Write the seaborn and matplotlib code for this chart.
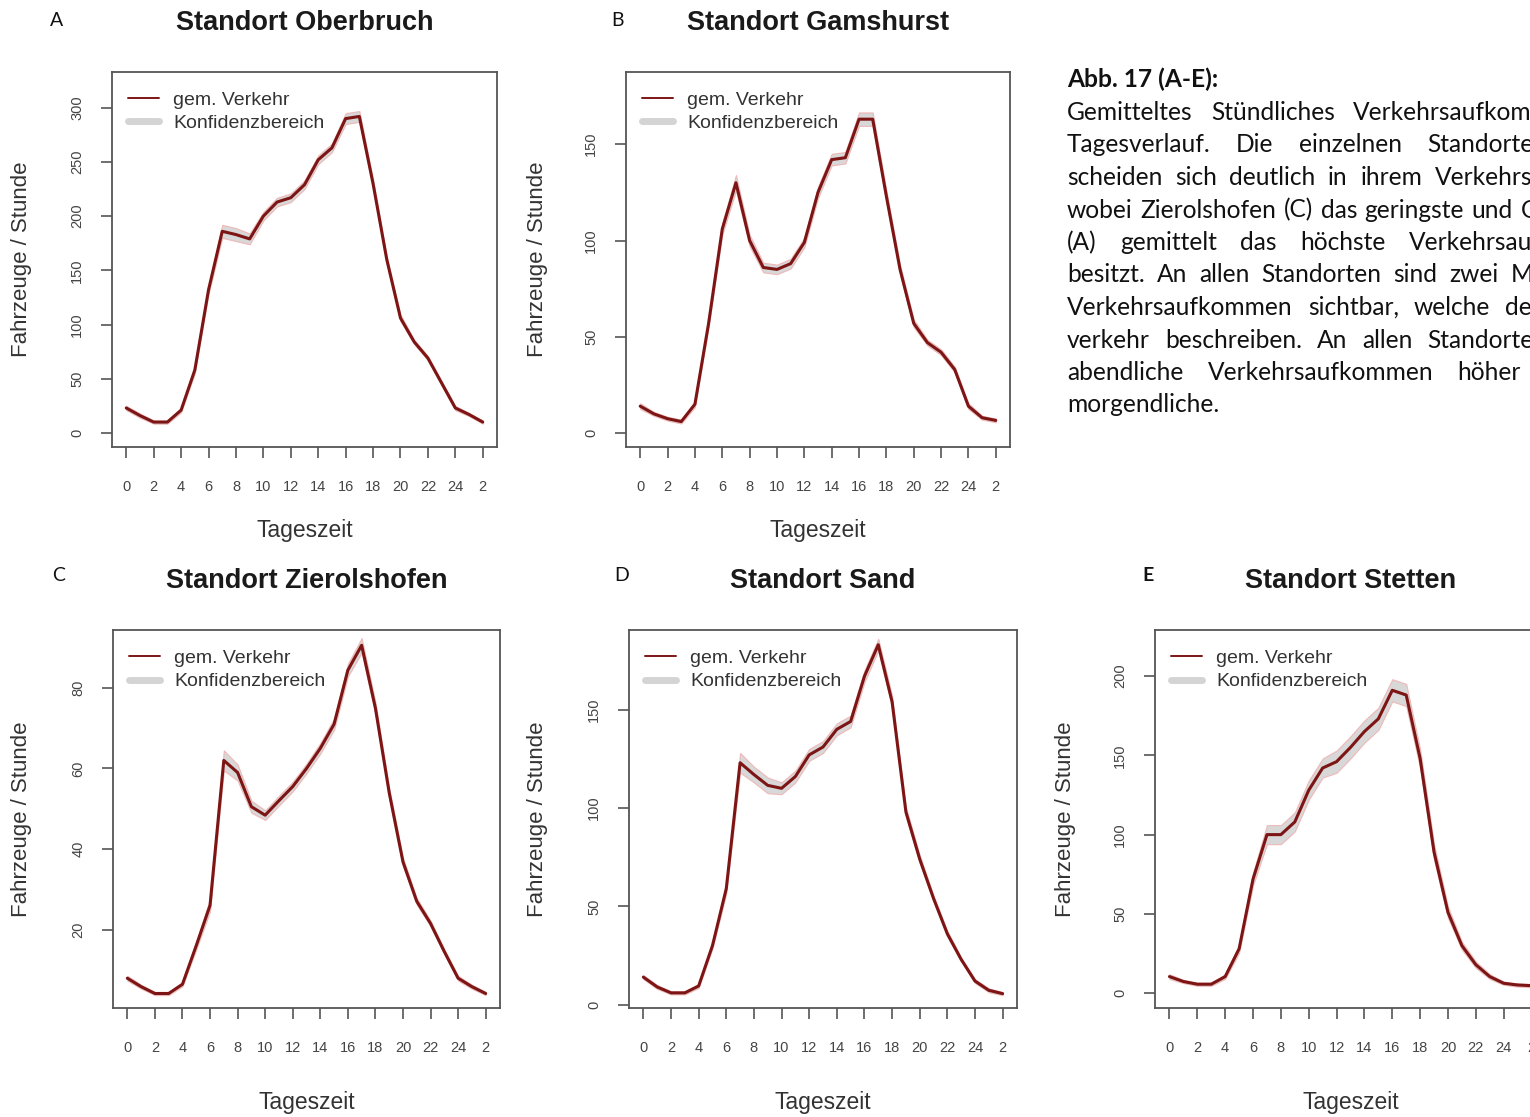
import numpy as np
import pandas as pd
import matplotlib
matplotlib.use("Agg")
import matplotlib.pyplot as plt
from matplotlib.lines import Line2D
import seaborn as sns

# ---------------- data ----------------
hours = list(range(27))
hour_ticks = list(range(0, 27, 2))
hour_labels = ["0", "2", "4", "6", "8", "10", "12", "14", "16", "18", "20", "22", "24", "2"]

titles = ["Standort Oberbruch", "Standort Gamshurst", "Standort Zierolshofen",
          "Standort Sand", "Standort Stetten"]
letters = ["A", "B", "C", "D", "E"]

oberbruch = [23, 16, 10, 10, 21, 58, 132, 186, 183, 179, 200, 213, 217, 229, 252, 263,
             290, 292, 230, 160, 106, 84, 69, 46, 23, 17, 10]
oberbruch_ci = [2, 2, 1.5, 1.5, 2, 3, 4, 6, 6, 5, 4, 4, 4, 4, 4, 4, 5, 5, 4, 3, 3, 2, 2, 2, 2, 1.5, 1.5]

gamshurst = [14, 10, 7.5, 6, 15, 57, 106, 130, 100, 86, 85, 88, 99, 125, 142, 143,
             163, 163, 123, 85, 57, 47, 42, 33, 14, 8, 6.6]
gamshurst_ci = [1.5, 1, 1, 1, 1.5, 2, 3, 4, 3, 2.5, 2.5, 2.5, 2.5, 3, 3, 3, 3.5, 3.5, 3, 2.5, 2,
                1.5, 1.5, 1.5, 1.5, 1, 1]

zierolshofen = [7.9, 5.8, 4.1, 4.1, 6.4, 16, 26, 62, 59, 50.5, 48.4, 52, 55.5, 60, 65, 71,
                84.4, 90.6, 75, 54, 36.8, 27, 21.5, 14.5, 7.9, 5.8, 4.1]
zierolshofen_ci = [0.6, 0.5, 0.4, 0.4, 0.5, 1, 1.5, 2.5, 2, 1.5, 1.2, 1.2, 1.2, 1.2, 1.3, 1.4,
                   1.6, 1.8, 1.5, 1.2, 1, 0.8, 0.7, 0.6, 0.6, 0.5, 0.4]

sand = [14, 9, 6, 6, 9.5, 30, 59, 123, 117, 111.5, 110, 116, 127, 131, 140, 144,
        167, 183, 154, 98, 74, 54, 36, 23, 12, 7.3, 5.6]
sand_ci = [1, 1, 0.8, 0.8, 1, 1.5, 2.5, 5, 4, 4, 3, 3, 3, 3, 3, 3, 3, 3, 3, 2.5, 2, 1.5, 1.5,
           1, 1, 1, 0.8]

stetten = [10.5, 7.4, 5.7, 5.7, 10.5, 28, 72, 100, 100, 108, 128, 142, 146, 155, 165, 173,
           191, 188, 148, 89, 51, 30, 18, 10.5, 6.3, 5.2, 4.8]
stetten_ci = [1.5, 1, 1, 1, 1.5, 2.5, 4, 6, 6, 6, 6, 6, 7, 7, 7, 7, 7, 7, 6, 5, 3.5, 2.5, 2,
              1.5, 1, 1, 1]

yticks_list = [[0, 50, 100, 150, 200, 250, 300], [0, 50, 100, 150], [20, 40, 60, 80],
               [0, 50, 100, 150], [0, 50, 100, 150, 200]]

means = [oberbruch, gamshurst, zierolshofen, sand, stetten]
cis = [oberbruch_ci, gamshurst_ci, zierolshofen_ci, sand_ci, stetten_ci]

caption_title = "Abb. 17 (A-E):"
# (words of the line, visible part of the last word, justified or not)
caption_lines = [
    (["Gemitteltes", "Stündliches", "Verkehrsaufkommen"], "Verkehrsaufkom", True),
    (["Tagesverlauf.", "Die", "einzelnen", "Standorte"], "Standorte", True),
    (["scheiden", "sich", "deutlich", "in", "ihrem", "Verkehrsaufkommen,"], "Verkehrs", True),
    (["wobei", "Zierolshofen", "(C)", "das", "geringste", "und", "Oberbruch"], "O", True),
    (["(A)", "gemittelt", "das", "höchste", "Verkehrsaufkommen"], "Verkehrsau", True),
    (["besitzt.", "An", "allen", "Standorten", "sind", "zwei", "Maxima"], "M", True),
    (["Verkehrsaufkommen", "sichtbar,", "welche", "den"], "de", True),
    (["verkehr", "beschreiben.", "An", "allen", "Standorten"], "Standorte", True),
    (["abendliche", "Verkehrsaufkommen", "höher"], "höher", True),
    (["morgendliche."], "morgendliche.", False),
]

# ---------------- layout (pixels) ----------------
W, H = 1530, 1117
boxes = [(112, 72, 497, 447), (626, 72, 1010, 447), (113, 630, 500, 1008),
         (629, 630, 1017, 1008), (1155, 630, 1546, 1008)]
ylims = [(-13, 333), (-7.2, 187.5), (0.5, 94.4), (-1.7, 190.5), (-9.3, 229)]
letter_pos = [(50, 26), (611, 26), (52, 581), (614, 581), (1142, 581)]
ylabel_x = [22, 537, 22, 538, 1065]
xlabel_y = [531, 531, 1102, 1102, 1102]
cap_left = 1067
cap_right = [1532, 1534, 1532, 1540, 1532, 1533, 1532, 1534, 1521, None]
cap_base = [120, 152.5, 185, 217.5, 250, 282.5, 315, 347.5, 380, 412.5]

sns.set_style("white")
plt.rcParams["font.family"] = ["Liberation Sans", "DejaVu Sans"]

fig = plt.figure(figsize=(W / 100, H / 100), dpi=100)
renderer = fig.canvas.get_renderer()

LINE_COL = "#7d1515"
BAND_COL = "#d2d2d2"
EDGE_COL = "#f0b0b0"
TXT = "#333333"

for i in range(5):
    l, t, r, b = boxes[i]
    ax = fig.add_axes([l / W, 1 - b / H, (r - l) / W, (b - t) / H])
    df = pd.DataFrame({"Stunde": hours, "Verkehr": means[i]})
    lo = [m - c for m, c in zip(means[i], cis[i])]
    hi = [m + c for m, c in zip(means[i], cis[i])]
    ax.fill_between(hours, lo, hi, facecolor=BAND_COL, edgecolor=EDGE_COL,
                    linewidth=0.8, alpha=0.85, zorder=1)
    sns.lineplot(data=df, x="Stunde", y="Verkehr", ax=ax, color=LINE_COL,
                 linewidth=2.2, zorder=3, legend=False)
    ax.set_xlim(-1.04, 27.04)
    ax.set_ylim(*ylims[i])
    ax.set_xticks(hour_ticks)
    ax.set_xticklabels(hour_labels)
    ax.set_yticks(yticks_list[i])
    ax.set_yticklabels([str(v) for v in yticks_list[i]], rotation=90, va="center")
    ax.tick_params(axis="both", direction="out", length=8, width=1.2, color="#555555",
                   labelcolor="#444444", labelsize=10.5)
    ax.tick_params(axis="x", pad=16)
    ax.tick_params(axis="y", pad=12)
    ax.tick_params(bottom=True, left=True)
    for s in ax.spines.values():
        s.set_visible(True)
        s.set_color("#555555")
        s.set_linewidth(1.3)
    hpx = b - t
    wpx = r - l
    ax.set_xlabel("Tageszeit", fontsize=16.5, color=TXT)
    ax.xaxis.set_label_coords(0.5, -(xlabel_y[i] - b) / hpx)
    ax.xaxis.label.set_va("center")
    ax.set_ylabel("Fahrzeuge / Stunde", fontsize=16, color=TXT)
    ax.yaxis.set_label_coords((ylabel_x[i] - l) / wpx, 0.5)
    ax.yaxis.label.set_va("center")
    ax.text(0.5, 1 + 42 / hpx, titles[i], transform=ax.transAxes, ha="center",
            va="baseline", fontsize=19.5, fontweight="bold", color="#1a1a1a")
    handles = [Line2D([], [], color=LINE_COL, lw=1.4),
               Line2D([], [], color="#d4d4d4", lw=5)]
    ax.legend(handles, ["gem. Verkehr", "Konfidenzbereich"], loc="upper left",
              bbox_to_anchor=(0.005, 0.985), frameon=False, fontsize=14,
              handlelength=1.6, handletextpad=0.75, labelspacing=0.3,
              borderpad=0.2, labelcolor="#333333")
    fig.text(letter_pos[i][0] / W, 1 - letter_pos[i][1] / H, letters[i],
             fontsize=14, family=["Lato", "DejaVu Sans"],
             fontweight="bold" if letters[i] == "E" else "normal",
             ha="left", va="baseline", color="#111111")

# ---------------- caption (justified block, cut by the right edge) ----------------
cap_font = ["Lato", "DejaVu Sans"]


def text_width(s, size, weight="normal"):
    tt = fig.text(0, 0, s, fontsize=size, family=cap_font, fontweight=weight)
    w = tt.get_window_extent(renderer).width
    tt.remove()
    return w


cap_size = 10 * 126 / text_width("Gemitteltes", 10)
title_size = 10 * 151 / text_width(caption_title, 10, "bold")
fig.text(cap_left / W, 1 - 87.5 / H, caption_title, fontsize=title_size, fontweight="bold",
         family=cap_font, ha="left", va="baseline", color="#111111")

for k, (words, visible, justify) in enumerate(caption_lines):
    widths = [text_width(w_, cap_size) for w_ in words]
    space = text_width("a a", cap_size) - text_width("aa", cap_size)
    if justify and len(words) > 1:
        used = sum(widths[:-1]) + text_width(visible, cap_size)
        gap = (cap_right[k] - cap_left - used) / (len(words) - 1)
    else:
        gap = space
    x = cap_left
    for w_, wd in zip(words, widths):
        fig.text(x / W, 1 - cap_base[k] / H, w_, fontsize=cap_size, family=cap_font,
                 ha="left", va="baseline", color="#111111")
        x += wd + gap

fig.savefig("out.png", dpi=100, facecolor="white")
